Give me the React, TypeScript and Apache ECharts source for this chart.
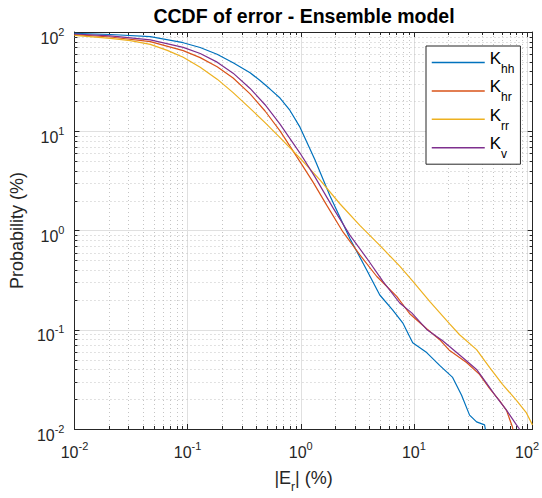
import React, { useEffect, useRef } from 'react';
import * as echarts from 'echarts';

// ---- Data ----
const seriesNames = ['Khh', 'Khr', 'Krr', 'Kv'];
const legendSubs = ['hh', 'hr', 'rr', 'v'];
const seriesColors = ['#0072BD', '#D95319', '#EDB120', '#7E2F8E'];

const khhX = [0.01, 0.0208, 0.0468, 0.0914, 0.129, 0.182, 0.2524, 0.3565, 0.4367, 0.5351, 0.6555, 0.803, 0.984, 1.334, 1.81, 2.716, 3.836, 4.994, 6.504, 7.963, 9.759, 12.97, 16.88, 21.99, 26.39, 31.05, 35.8, 42.11, 43.5];
const khhY = [97.0, 94.4, 89.7, 78.0, 69.8, 59.6, 49.0, 38.9, 32.4, 26.6, 21.6, 16.2, 11.0, 5.15, 2.24, 0.832, 0.398, 0.224, 0.158, 0.1175, 0.0741, 0.0589, 0.0437, 0.0331, 0.0219, 0.0138, 0.0118, 0.011, 0.009];

const khrX = [0.01, 0.0208, 0.0468, 0.0914, 0.1292, 0.1824, 0.2524, 0.3565, 0.4833, 0.6555, 0.984, 1.28, 1.7, 2.36, 3.33, 4.7, 7.05, 9.18, 12.97, 16.9, 20.7, 29.2, 38.0, 46.6, 57.1, 65.8, 74.3, 76.0];
const khrY = [94.0, 89.1, 80.0, 64.9, 55.2, 44.7, 34.4, 23.8, 16.0, 10.1, 4.95, 3.09, 1.79, 0.967, 0.567, 0.344, 0.217, 0.145, 0.1023, 0.0794, 0.0617, 0.0468, 0.0355, 0.0257, 0.0193, 0.0154, 0.01047, 0.009];

const krrX = [0.01, 0.0208, 0.0312, 0.0468, 0.0661, 0.0914, 0.1292, 0.1824, 0.2524, 0.3565, 0.4833, 0.6555, 0.984, 1.476, 2.216, 3.327, 4.994, 7.493, 9.759, 13.78, 20.69, 25.34, 35.8, 46.6, 60.69, 80.63, 98.79, 111.6];
const krrY = [92.3, 86.1, 81.7, 75.0, 65.3, 55.6, 44.2, 33.5, 24.5, 17.0, 12.2, 8.61, 5.37, 3.24, 1.86, 1.127, 0.708, 0.437, 0.309, 0.193, 0.1148, 0.0891, 0.0631, 0.0417, 0.0282, 0.0194, 0.0145, 0.011];

const kvX = [0.01, 0.0208, 0.0468, 0.0914, 0.1292, 0.1824, 0.2524, 0.3565, 0.4833, 0.6555, 0.984, 1.334, 1.923, 2.716, 3.836, 5.307, 7.493, 9.564, 12.97, 17.95, 26.94, 35.8, 46.6, 53.74, 65.81, 80.63, 85.7, 88.0];
const kvY = [95.5, 91.2, 83.2, 70.1, 60.7, 49.7, 38.5, 27.0, 18.5, 11.8, 6.03, 3.47, 1.7, 0.897, 0.525, 0.309, 0.186, 0.148, 0.1007, 0.0776, 0.0525, 0.0398, 0.0263, 0.0209, 0.0155, 0.011, 0.01, 0.009];

const seriesX = [khhX, khrX, krrX, kvX];
const seriesY = [khhY, khrY, krrY, kvY];

const xMin = 0.01;
const xMax = 112;
const yMin = 0.01;
const yMax = 100;
const minorExponents = [-2, -1, 0, 1];
const minorMultipliers = [2, 3, 4, 5, 6, 7, 8, 9];

const titleText = 'CCDF of error - Ensemble model';

const fontFamily = '"Liberation Sans", Arial, Helvetica, sans-serif';
const axisColor = '#262626';

function buildMinor(lo: number, hi: number): number[] {
  const out: number[] = [];
  minorExponents.forEach((e) => {
    minorMultipliers.forEach((m) => {
      const v = m * Math.pow(10, e);
      if (v > lo && v < hi) out.push(v);
    });
  });
  return out;
}

function powFmt(v: number): string {
  const l = Math.log10(v);
  const e = Math.round(l);
  if (Math.abs(l - e) > 1e-6) return '';
  return `{b|10}{s|${e}}`;
}

const labelRich = {
  b: { fontSize: 16, fontFamily, color: axisColor, verticalAlign: 'bottom' },
  s: { fontSize: 11, fontFamily, color: axisColor, verticalAlign: 'bottom', padding: [0, 0, 9, 0] },
};

export default function App() {
  const ref = useRef<HTMLDivElement>(null);
  useEffect(() => {
    if (!ref.current) return;
    const chart = echarts.init(ref.current, null, { renderer: 'svg' });
    const minorX = buildMinor(xMin, xMax);
    const minorY = buildMinor(yMin, yMax);

    const baseAxis = (extra: any) => ({
      type: 'log',
      logBase: 10,
      axisLine: { show: true, onZero: false, lineStyle: { color: axisColor, width: 1 } },
      axisTick: { show: true, inside: true, length: 5, lineStyle: { color: axisColor, width: 1 } },
      minorTick: { show: false },
      minorSplitLine: { show: false },
      ...extra,
    });

    const lineSeries = seriesNames.map((name, i) => ({
      name,
      type: 'line',
      xAxisIndex: 0,
      yAxisIndex: 0,
      data: seriesX[i].map((x, j) => [x, seriesY[i][j]]),
      showSymbol: false,
      symbol: 'none',
      clip: true,
      z: 5,
      color: seriesColors[i],
      lineStyle: { color: seriesColors[i], width: 1.2 },
    }));

    const minorXSeries = {
      type: 'custom',
      name: 'minorX',
      xAxisIndex: 0,
      yAxisIndex: 0,
      silent: true,
      z: 1,
      data: minorX.map((v) => [v, 1]),
      renderItem: (params: any, api: any) => {
        const cs = params.coordSys;
        const px = Math.round(api.coord([api.value(0), 1])[0]) + 0.5;
        const top = cs.y;
        const bot = cs.y + cs.height;
        return {
          type: 'group',
          children: [
            { type: 'line', shape: { x1: px, y1: top, x2: px, y2: bot }, style: { stroke: '#c4c4c4', lineWidth: 1, lineDash: [1, 3] } },
            { type: 'line', shape: { x1: px, y1: bot, x2: px, y2: bot - 3 }, style: { stroke: axisColor, lineWidth: 1 } },
            { type: 'line', shape: { x1: px, y1: top, x2: px, y2: top + 3 }, style: { stroke: axisColor, lineWidth: 1 } },
          ],
        };
      },
    };

    const minorYSeries = {
      type: 'custom',
      name: 'minorY',
      xAxisIndex: 0,
      yAxisIndex: 0,
      silent: true,
      z: 1,
      data: minorY.map((v) => [1, v]),
      renderItem: (params: any, api: any) => {
        const cs = params.coordSys;
        const py = Math.round(api.coord([1, api.value(1)])[1]) + 0.5;
        const l = cs.x;
        const r = cs.x + cs.width;
        return {
          type: 'group',
          children: [
            { type: 'line', shape: { x1: l, y1: py, x2: r, y2: py }, style: { stroke: '#c4c4c4', lineWidth: 1, lineDash: [1, 3] } },
            { type: 'line', shape: { x1: l, y1: py, x2: l + 3, y2: py }, style: { stroke: axisColor, lineWidth: 1 } },
            { type: 'line', shape: { x1: r, y1: py, x2: r - 3, y2: py }, style: { stroke: axisColor, lineWidth: 1 } },
          ],
        };
      },
    };

    const option: any = {
      animation: false,
      backgroundColor: '#ffffff',
      title: {
        text: titleText,
        left: 304,
        top: 6,
        textAlign: 'center',
        padding: 0,
        textStyle: { fontSize: 19.5, fontWeight: 'bold', color: '#000', fontFamily },
      },
      grid: { left: 74, right: 9, top: 32, bottom: 66, containLabel: false, show: false },
      legend: {
        data: seriesNames,
        orient: 'vertical',
        left: 426,
        top: 46,
        itemWidth: 53,
        itemHeight: 1,
        itemGap: 3.4,
        padding: [4, 6, 4, 5],
        borderColor: axisColor,
        borderWidth: 1,
        backgroundColor: '#ffffff',
        lineStyle: { width: 1.5 },
        formatter: (name: string) => `{k|K}{s|${legendSubs[seriesNames.indexOf(name)]}}`,
        textStyle: {
          rich: {
            k: { fontSize: 17, fontFamily, color: '#000', verticalAlign: 'top' },
            s: { fontSize: 12, fontFamily, color: '#000', verticalAlign: 'top', padding: [13, 0, 0, 0] },
          },
        },
      },
      xAxis: [
        baseAxis({
          min: xMin,
          max: xMax,
          position: 'bottom',
          axisLabel: { formatter: powFmt, rich: labelRich, margin: 11, color: axisColor },
          splitLine: { show: true, lineStyle: { color: '#e0e0e0', width: 1 } },
          name: '{n||E}{r|r}{n|| (%)}',
          nameLocation: 'middle',
          nameGap: 40,
          nameTextStyle: {
            rich: {
              n: { fontSize: 18, fontFamily, color: axisColor, verticalAlign: 'top' },
              r: { fontSize: 12, fontFamily, color: axisColor, verticalAlign: 'top', padding: [12, 0, 0, 0] },
            },
          },
        }),
        baseAxis({
          min: xMin,
          max: xMax,
          position: 'top',
          axisLabel: { show: false },
          splitLine: { show: false },
        }),
      ],
      yAxis: [
        baseAxis({
          min: yMin,
          max: yMax,
          position: 'left',
          axisLabel: { formatter: powFmt, rich: labelRich, margin: 10, color: axisColor, padding: [8, 0, 0, 0] },
          splitLine: { show: true, lineStyle: { color: '#e0e0e0', width: 1 } },
          name: 'Probability (%)',
          nameLocation: 'middle',
          nameGap: 45,
          nameRotate: 90,
          nameTextStyle: { fontSize: 18, fontFamily, color: axisColor },
        }),
        baseAxis({
          min: yMin,
          max: yMax,
          position: 'right',
          axisLabel: { show: false },
          splitLine: { show: false },
        }),
      ],
      series: [minorXSeries, minorYSeries, ...lineSeries],
    };
    chart.setOption(option);
    return () => chart.dispose();
  }, []);
  return <div ref={ref} style={{ position: 'absolute', left: 0, top: 0, width: 542, height: 498 }} />;
}
